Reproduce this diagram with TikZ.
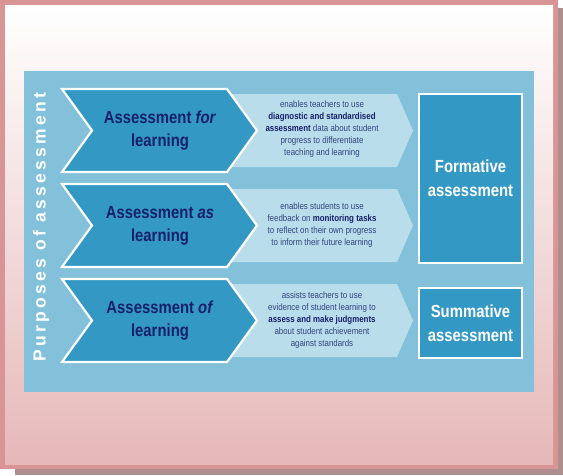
\documentclass[tikz,border=0pt]{standalone}
\usepackage{fontspec}
\setmainfont{Liberation Sans}
\newfontfamily\narrowsans[FakeStretch=0.85]{Liberation Sans}
\newfontfamily\spacedsans[LetterSpace=19]{Liberation Sans}
\usetikzlibrary{positioning}

\definecolor{framepink}{HTML}{D99595}
\definecolor{innerpink}{HTML}{E6B8B8}
\definecolor{shadowgrey}{HTML}{AF8E8E}
\definecolor{panelblue}{HTML}{82C1D9}
\definecolor{deepblue}{HTML}{3399C4}
\definecolor{paleblue}{HTML}{B9DDEA}
\definecolor{navy}{HTML}{16206A}
\definecolor{softnavy}{HTML}{34437F}

\tikzset{
    purpose/.style={fill=deepblue, draw=white, line width=2.2pt, line join=miter},
    detail/.style={fill=paleblue},
    purposetext/.style={align=center, text=navy, font=\narrowsans\bfseries\fontsize{17.5}{23}\selectfont},
    detailtext/.style={align=center, text=softnavy, font=\narrowsans\fontsize{9.3}{12}\selectfont},
    kindbox/.style={fill=deepblue, draw=white, line width=2pt, minimum width=103pt, align=center,
        text=white, font=\narrowsans\bfseries\fontsize{17.5}{24}\selectfont}
}
\newcommand{\key}[1]{\textbf{\color{navy}#1}}

\begin{document}
\begin{tikzpicture}[x=1pt, y=-1pt]
            \useasboundingbox (0,0) rectangle (563,475);

            % Frame with drop shadow
            \fill[shadowgrey] (15,8) rectangle (563,475);
            \fill[framepink] (0,0) rectangle (558,469);
            \shade[top color=white, bottom color=innerpink] (5,5) rectangle (553,464);
            \fill[panelblue] (24,71) rectangle (534,392);

            % Side title
            \node[rotate=90, text=white, font=\spacedsans\bfseries\fontsize{17.5}{20}\selectfont] (title) at (41,227) {Purposes of assessment};

            % Pale arrows behind the purposes
            \fill[detail] (226,94) -- (397,94) -- (413,130.5) -- (397,167) -- (226,167) -- (250,130.5) -- cycle;
            \fill[detail] (226,189) -- (397,189) -- (413,225.5) -- (397,262) -- (226,262) -- (250,225.5) -- cycle;
            \fill[detail] (226,284) -- (397,284) -- (413,320.5) -- (397,357) -- (226,357) -- (250,320.5) -- cycle;

            % Purpose chevrons
            \filldraw[purpose] (62,89) -- (227,89) -- (257,130.5) -- (227,172) -- (62,172) -- (92,130.5) -- cycle;
            \filldraw[purpose] (62,184) -- (227,184) -- (257,225.5) -- (227,267) -- (62,267) -- (92,225.5) -- cycle;
            \filldraw[purpose] (62,279) -- (227,279) -- (257,320.5) -- (227,362) -- (62,362) -- (92,320.5) -- cycle;

            \node[purposetext] (for) at (160,130.5) {Assessment \textit{for}\\learning};
            \node[purposetext] (as) at (160,225.5) {Assessment \textit{as}\\learning};
            \node[purposetext] (of) at (160,320.5) {Assessment \textit{of}\\learning};

            \node[detailtext] (fordetail) at (322,129.5) {enables teachers to use\\\key{diagnostic and standardised}\\\key{assessment} data about student\\progress to differentiate\\teaching and learning};
            \node[detailtext] (asdetail) at (322,225) {enables students to use\\feedback on \key{monitoring tasks}\\to reflect on their own progress\\to inform their future learning};
            \node[detailtext] (ofdetail) at (322,320) {assists teachers to use\\evidence of student learning to\\\key{assess and make judgments}\\about student achievement\\against standards};

            % Kinds of assessment
            \node[kindbox, minimum height=169pt] (formative) at (470.5,178.5) {Formative\\assessment};
            \node[kindbox, minimum height=70pt] (summative) at (470.5,323) {Summative\\assessment};

        \end{tikzpicture}
\end{document}
